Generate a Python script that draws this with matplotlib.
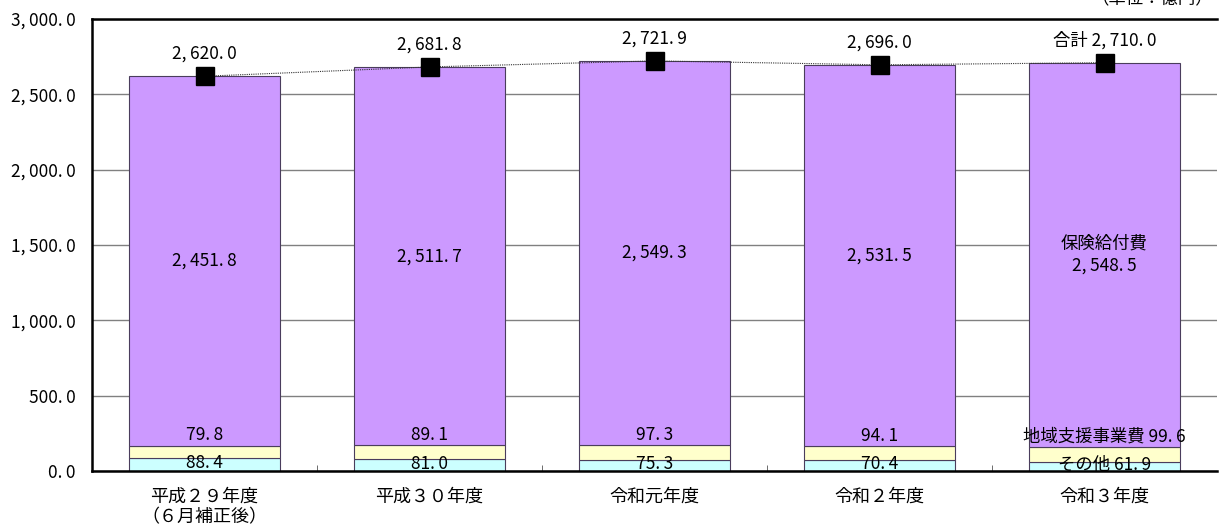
import matplotlib
matplotlib.use("Agg")
import matplotlib.pyplot as plt
import numpy as np

plt.rcParams['font.family'] = ['Noto Sans CJK JP', 'DejaVu Sans']

categories = ["平成２９年度\n（６月補正後）", "平成３０年度", "令和元年度", "令和２年度", "令和３年度"]
sonota = [88.4, 81.0, 75.3, 70.4, 61.9]          # その他
chiiki = [79.8, 89.1, 97.3, 94.1, 99.6]          # 地域支援事業費
hoken = [2451.8, 2511.7, 2549.3, 2531.5, 2548.5]  # 保険給付費
totals = [2620.0, 2681.8, 2721.9, 2696.0, 2710.0]  # 合計
yticks = [0, 500, 1000, 1500, 2000, 2500, 3000]

c_sonota = "#CCFFFF"
c_chiiki = "#FFFFCC"
c_hoken = "#CC99FF"
edge = "#4a3d5c"
fs = 12.5
fam = ['Noto Sans CJK JP', 'DejaVu Sans']

fig = plt.figure(figsize=(12.19, 5.27), dpi=100)
ax = fig.add_axes([92/1219, 1-471/527, 1125/1219, (471-19)/527])

x = np.arange(len(categories))
w = 0.667
s = np.array(sonota)
c = np.array(chiiki)
h = np.array(hoken)
ax.bar(x, s, w, color=c_sonota, edgecolor=edge, linewidth=0.8, zorder=2)
ax.bar(x, c, w, bottom=s, color=c_chiiki, edgecolor=edge, linewidth=0.8, zorder=2)
ax.bar(x, h, w, bottom=s + c, color=c_hoken, edgecolor=edge, linewidth=0.8, zorder=2)

ax.plot(x, totals, linestyle=(0, (1, 1)), color="#333333", linewidth=0.8,
        marker="s", markersize=13, markerfacecolor="black", markeredgecolor="black", zorder=4)

def fmt(v):
    return f"{v:,.1f}".replace(",", ",\u2009").replace(".", ".\u2009")

n = len(categories)
for i in range(n):
    last = (i == n - 1)
    t = ("合計 " if last else "") + fmt(totals[i])
    ax.annotate(t, (x[i], totals[i]), xytext=(0, 16), textcoords="offset points",
                ha="center", va="center", fontsize=fs, family=fam, zorder=5)
    hy = s[i] + c[i] + h[i] / 2
    ht = ("保険給付費\n" if last else "") + fmt(hoken[i])
    ax.text(x[i], hy, ht, ha="center", va="center", fontsize=fs, family=fam,
            zorder=5, linespacing=1.3)
    ct = ("地域支援事業費 " if last else "") + fmt(chiiki[i])
    ax.annotate(ct, (x[i], s[i] + c[i]), xytext=(0, 1), textcoords="offset points",
                ha="center", va="bottom", fontsize=fs, family=fam, zorder=5)
    st = ("その他 " if last else "") + fmt(sonota[i])
    ax.annotate(st, (x[i], s[i] / 2), xytext=(0, 1), textcoords="offset points",
                ha="center", va="center", fontsize=fs, family=fam, zorder=5)

ax.set_xlim(-0.5, n - 0.5)
ax.set_ylim(0, 3000)
ax.set_yticks(yticks)
ax.set_yticklabels([fmt(v) for v in yticks], fontsize=fs, family=fam)
ax.yaxis.grid(True, color="#808080", linewidth=1, zorder=0)
ax.set_axisbelow(True)
ax.tick_params(axis="y", length=0, pad=12)

ax.set_xticks(x)
ax.set_xticklabels(categories, fontsize=13, family=fam, linespacing=1.2)
ax.tick_params(axis="x", which="major", length=0, pad=12)
ax.set_xticks(np.arange(0.5, n - 0.5, 1), minor=True)
ax.tick_params(axis="x", which="minor", direction="in", length=4, color="#555555")

ax.spines["right"].set_visible(False)
for sp in ["left", "bottom", "top"]:
    ax.spines[sp].set_linewidth(1.8)
    ax.spines[sp].set_color("black")

fig.text(1 - 5/1219, 1 + 2/527, "（単位：億円）", ha="right", va="center", fontsize=fs)

fig.savefig("out.png", dpi=100)
